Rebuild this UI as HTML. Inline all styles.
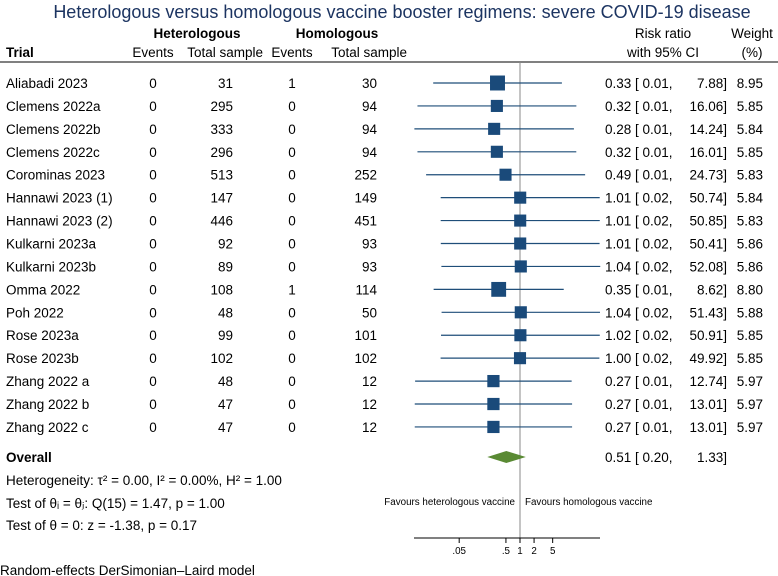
<!DOCTYPE html>
<html><head><meta charset="utf-8"><style>
body{margin:0;background:#fff;}
svg{display:block;font-family:"Liberation Sans",Arial,sans-serif;}
</style></head><body>
<svg id="chart" width="778" height="576">
<text x="402" y="18" text-anchor="middle" font-size="18" fill="#1c3461">Heterologous versus homologous vaccine booster regimens: severe COVID-19 disease</text>
<g font-size="13.5" fill="#000">
<text x="197" y="38" text-anchor="middle" font-weight="bold">Heterologous</text>
<text x="337" y="38" text-anchor="middle" font-weight="bold">Homologous</text>
<text x="6" y="57" font-weight="bold">Trial</text>
<text x="153" y="57" text-anchor="middle">Events</text>
<text x="263" y="57" text-anchor="end">Total sample</text>
<text x="292" y="57" text-anchor="middle">Events</text>
<text x="407" y="57" text-anchor="end">Total sample</text>
<text x="663" y="38" text-anchor="middle">Risk ratio</text>
<text x="663" y="57" text-anchor="middle">with 95% CI</text>
<text x="752" y="38" text-anchor="middle">Weight</text>
<text x="752" y="57" text-anchor="middle">(%)</text>
</g>
<line x1="0" y1="62" x2="778" y2="62" stroke="#000" stroke-width="1"/>
<line x1="520" y1="62" x2="520" y2="538" stroke="#888" stroke-width="1"/>
<g id="rows"></g>
<g font-size="13.5">
<text x="6" y="462" font-weight="bold">Overall</text>
<text x="6" y="485">Heterogeneity: τ² = 0.00, I² = 0.00%, H² = 1.00</text>
<text x="6" y="508">Test of θᵢ = θⱼ: Q(15) = 1.47, p = 1.00</text>
<text x="6" y="530">Test of θ = 0: z = -1.38, p = 0.17</text>
<text x="0" y="575" font-size="13.5">Random-effects DerSimonian–Laird model</text>
</g>
<text x="515" y="505" font-size="9.8" text-anchor="end">Favours heterologous vaccine</text>
<text x="525" y="505" font-size="9.8">Favours homologous vaccine</text>
<g id="axis"></g>
</svg>
<script>
const trials=["Aliabadi 2023","Clemens 2022a","Clemens 2022b","Clemens 2022c","Corominas 2023","Hannawi 2023 (1)","Hannawi 2023 (2)","Kulkarni 2023a","Kulkarni 2023b","Omma 2022","Poh 2022","Rose 2023a","Rose 2023b","Zhang 2022 a","Zhang 2022 b","Zhang 2022 c"];
const hetEvents=[0,0,0,0,0,0,0,0,0,0,0,0,0,0,0,0];
const hetTotal=[31,295,333,296,513,147,446,92,89,108,48,99,102,48,47,47];
const homEvents=[1,0,0,0,0,0,0,0,0,1,0,0,0,0,0,0];
const homTotal=[30,94,94,94,252,149,451,93,93,114,50,101,102,12,12,12];
const rr=[0.33,0.32,0.28,0.32,0.49,1.01,1.01,1.01,1.04,0.35,1.04,1.02,1.00,0.27,0.27,0.27];
const lo=[0.0139,0.0064,0.0055,0.0064,0.0098,0.0201,0.0201,0.0202,0.0208,0.0142,0.0210,0.0204,0.0200,0.0057,0.0056,0.0056];
const hi=[7.88,16.06,14.24,16.01,24.73,50.74,50.85,50.41,52.08,8.62,51.43,50.91,49.92,12.74,13.01,13.01];
const loLabel=["0.01","0.01","0.01","0.01","0.01","0.02","0.02","0.02","0.02","0.01","0.02","0.02","0.02","0.01","0.01","0.01"];
const weight=[8.95,5.85,5.84,5.85,5.83,5.84,5.83,5.86,5.86,8.80,5.88,5.85,5.85,5.97,5.97,5.97];
const overall=[0.51,0.20,1.33];
const ticks=[0.05,0.5,1,2,5];
const tickLabels=[".05",".5","1","2","5"];
const NS="http://www.w3.org/2000/svg";
const xs=v=>520+20.3*Math.log(v);
const ys=i=>83+22.93*i;
function mk(tag,attrs,parent,txt){const e=document.createElementNS(NS,tag);for(const k in attrs)e.setAttribute(k,attrs[k]);if(txt!==undefined)e.textContent=txt;parent.appendChild(e);return e;}
const rows=document.getElementById('rows');
trials.forEach((t,i)=>{
  const y=ys(i);
  const g=mk('g',{'font-size':'13.5'},rows);
  
  
  mk('text',{x:6,y:y+5},g,t);
  mk('text',{x:153,y:y+5,'text-anchor':'middle'},g,hetEvents[i]);
  mk('text',{x:233,y:y+5,'text-anchor':'end'},g,hetTotal[i]);
  mk('text',{x:292,y:y+5,'text-anchor':'middle'},g,homEvents[i]);
  mk('text',{x:377,y:y+5,'text-anchor':'end'},g,homTotal[i]);
  mk('text',{x:605,y:y+5},g,rr[i].toFixed(2)+' [ '+loLabel[i]+',');
  mk('text',{x:727,y:y+5,'text-anchor':'end'},g,hi[i].toFixed(2)+']');
  mk('text',{x:763,y:y+5,'text-anchor':'end'},g,weight[i].toFixed(2));
  const l=mk('line',{x1:xs(lo[i]),x2:xs(hi[i]),y1:y,y2:y,stroke:'#1f4e79','stroke-width':1.2},g);
  
  
  const s=5*Math.sqrt(weight[i]);
  const r=mk('rect',{x:xs(rr[i])-s/2,y:y-s/2,width:s,height:s,fill:'#1a4a7a'},g);
  
  
});
const dy=457;
const d=mk('polygon',{points:`${xs(overall[1])},${dy} ${xs(overall[0])},${dy-6} ${xs(overall[2])},${dy} ${xs(overall[0])},${dy+6}`,fill:'#5a8a34'},rows);


const ot=mk('text',{x:605,y:dy+5,'font-size':'13.5'},rows,overall[0].toFixed(2)+' [ '+overall[1].toFixed(2)+',');


const ot2=mk('text',{x:727,y:dy+5,'font-size':'13.5','text-anchor':'end'},rows,overall[2].toFixed(2)+']');


const ax=document.getElementById('axis');
const al=mk('line',{x1:414,x2:600,y1:538,y2:538,stroke:'#000'},ax);


ticks.forEach((t,i)=>{
  const x=xs(t);
  const tk=mk('line',{x1:x,x2:x,y1:538,y2:543,stroke:'#000'},ax);
  
  
  const tl=mk('text',{x:x,y:554,'font-size':'9.8','text-anchor':'middle'},ax,tickLabels[i]);
  
  
});
</script>
</body></html>
